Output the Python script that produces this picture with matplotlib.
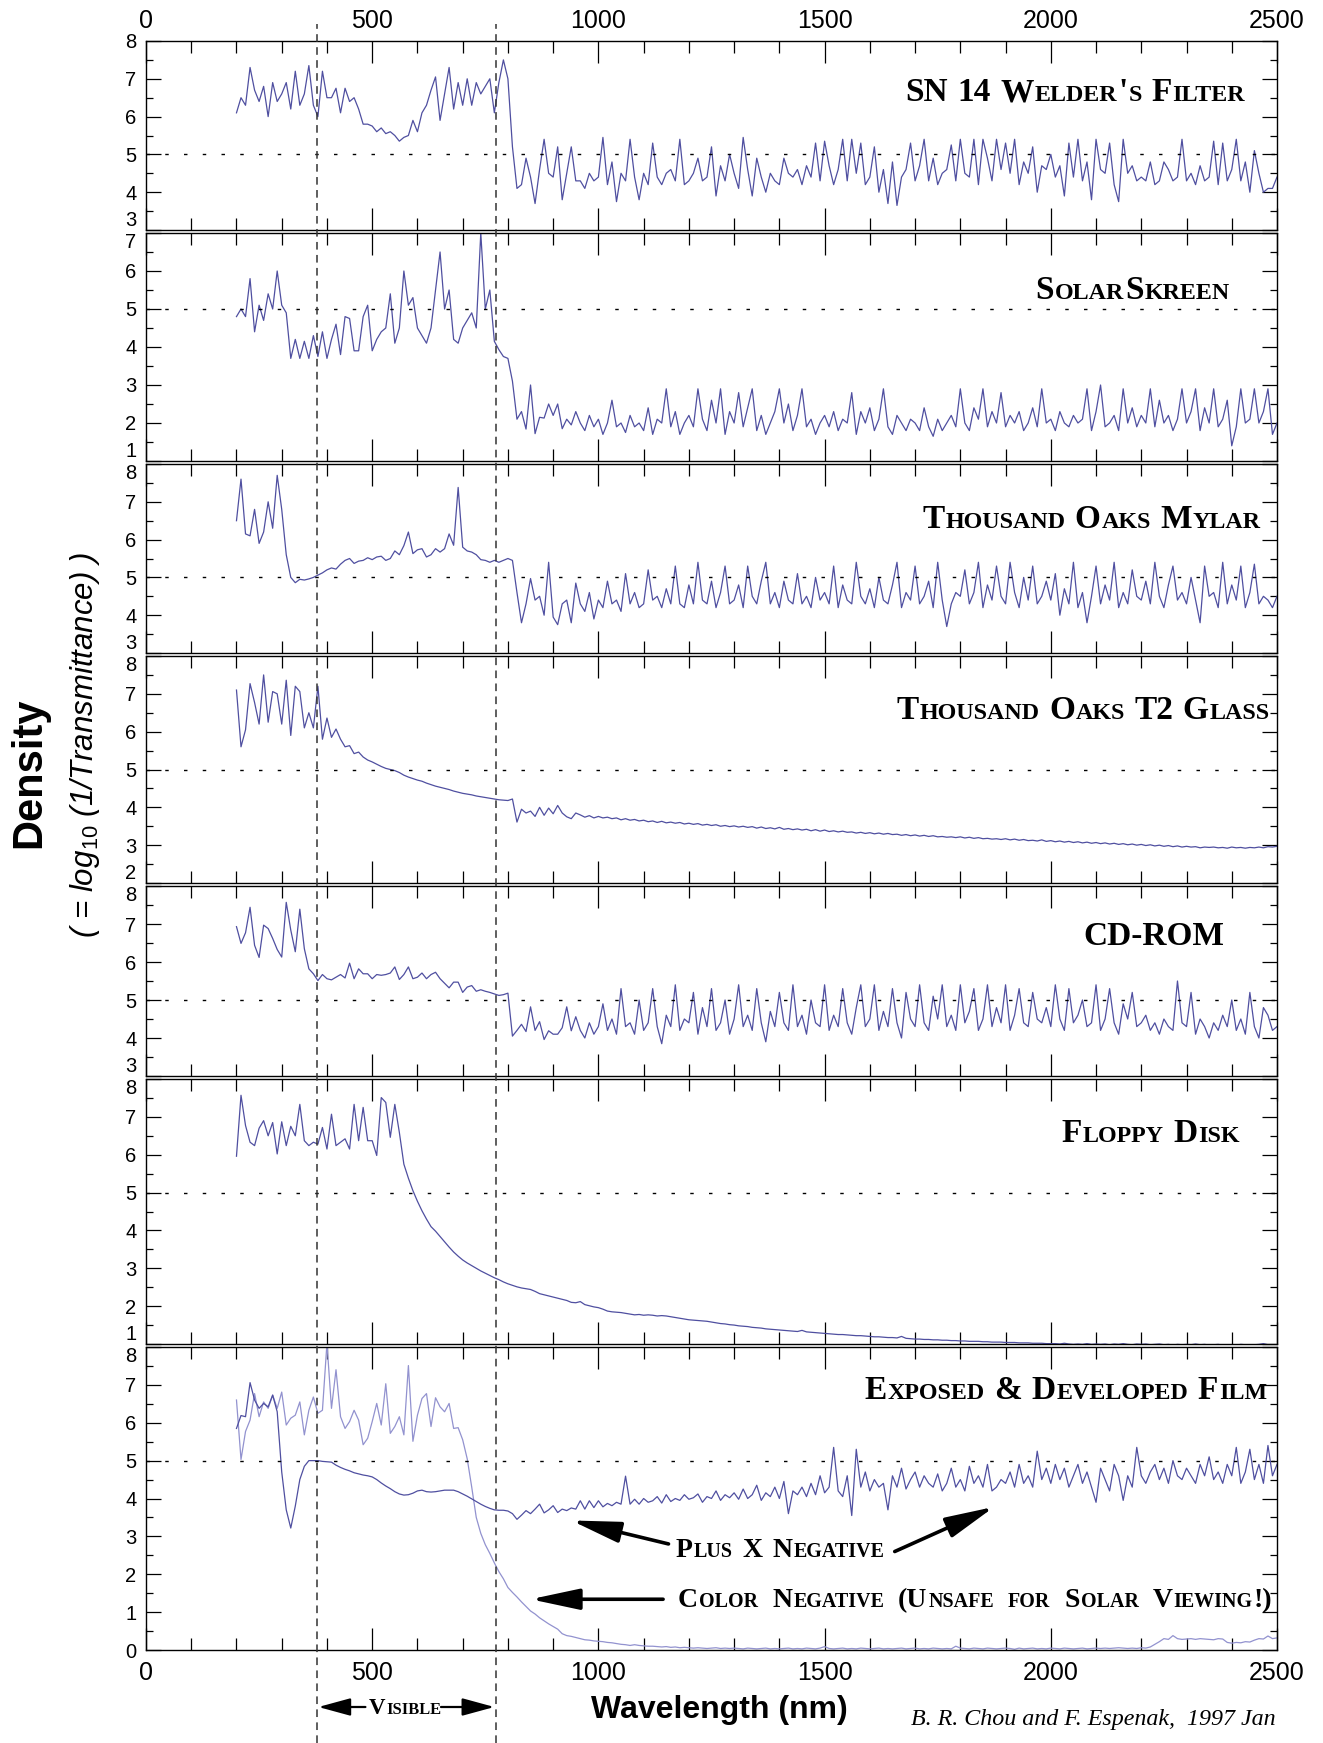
import numpy as np
import matplotlib
matplotlib.use('Agg')
import matplotlib.pyplot as plt
from matplotlib.lines import Line2D
from matplotlib.ticker import MultipleLocator
import matplotlib.transforms as mtrans

plt.rcParams['font.family'] = ['Liberation Sans', 'DejaVu Sans']
plt.rcParams['mathtext.fontset'] = 'custom'
plt.rcParams['mathtext.it'] = 'Liberation Sans:italic'
plt.rcParams['mathtext.rm'] = 'Liberation Sans'

# wavelength grid (nm), one value every 10 nm
wavelength = np.arange(200, 2501, 10)

sn14 = [
    6.1, 6.5, 6.3, 7.3, 6.7, 6.4, 6.8, 6.0, 6.9, 6.4,
    6.6, 6.9, 6.2, 7.2, 6.3, 6.6, 7.35, 6.3, 6.0, 7.2,
    6.5, 6.5, 6.75, 6.1, 6.75, 6.4, 6.5, 6.2, 5.8, 5.8,
    5.75, 5.6, 5.7, 5.55, 5.6, 5.5, 5.35, 5.45, 5.5, 5.9,
    5.6, 6.1, 6.3, 6.7, 7.05, 5.9, 6.6, 7.3, 6.2, 6.9,
    6.3, 7.0, 6.3, 6.9, 6.6, 6.8, 7.0, 6.1, 6.9, 7.5,
    7.0, 5.2, 4.1, 4.2, 4.9, 4.4, 3.7, 4.6, 5.4, 4.5,
    4.4, 5.2, 3.8, 4.5, 5.2, 4.3, 4.3, 4.1, 4.5, 4.3,
    4.4, 5.45, 4.2, 4.8, 3.75, 4.5, 4.3, 5.4, 4.4, 3.8,
    4.5, 4.2, 5.3, 4.4, 4.2, 4.5, 4.6, 4.3, 5.4, 4.2,
    4.3, 4.5, 4.9, 4.3, 4.4, 5.2, 3.9, 4.7, 4.3, 5.0,
    4.5, 4.1, 5.45, 4.6, 3.9, 4.9, 4.4, 4.0, 4.5, 4.3,
    4.2, 4.9, 4.5, 4.4, 4.6, 4.2, 4.7, 4.4, 5.3, 4.3,
    5.35, 4.7, 4.2, 4.6, 5.4, 4.3, 5.4, 4.5, 5.3, 4.2,
    4.4, 5.2, 4.0, 4.6, 3.7, 4.8, 3.65, 4.4, 4.6, 5.3,
    4.3, 4.7, 5.4, 4.3, 4.9, 4.2, 4.5, 4.6, 5.25, 4.3,
    5.4, 4.5, 4.4, 5.4, 4.2, 5.4, 4.9, 4.3, 5.4, 4.6,
    5.3, 4.5, 5.4, 4.2, 4.8, 4.5, 5.2, 4.0, 4.7, 4.6,
    5.0, 4.4, 4.7, 3.9, 5.3, 4.4, 5.4, 4.3, 4.8, 3.8,
    5.4, 4.6, 4.5, 5.3, 4.2, 3.75, 5.4, 4.5, 4.7, 4.3,
    4.4, 4.3, 4.8, 4.2, 4.3, 4.8, 4.6, 4.3, 4.4, 5.4,
    4.3, 4.5, 4.2, 4.7, 4.3, 4.4, 5.35, 4.2, 5.3, 4.3,
    4.6, 5.4, 4.3, 4.8, 4.0, 5.1, 4.5, 4.0, 4.1, 4.1,
    4.4,
]

solarskreen = [
    4.8, 5.0, 4.8, 5.8, 4.4, 5.1, 4.7, 5.4, 5.0, 6.0,
    5.1, 4.9, 3.7, 4.2, 3.7, 4.15, 3.7, 4.3, 3.75, 4.4,
    3.7, 4.2, 4.6, 3.8, 4.8, 4.75, 3.9, 3.9, 4.8, 5.1,
    3.9, 4.2, 4.4, 4.5, 5.4, 4.1, 4.5, 6.0, 5.1, 5.3,
    4.5, 4.3, 4.1, 4.5, 5.5, 6.5, 5.0, 5.5, 4.2, 4.1,
    4.5, 4.7, 4.9, 4.5, 7.0, 5.0, 5.5, 4.15, 3.93, 3.75,
    3.7, 3.1, 2.1, 2.3, 1.84, 3.0, 1.72, 2.15, 2.13, 2.5,
    2.2, 2.5, 1.85, 2.1, 1.95, 2.3, 2.0, 1.8, 2.2, 1.9,
    2.1, 1.7, 2.0, 2.6, 1.9, 2.0, 1.75, 2.2, 1.9, 2.0,
    1.8, 2.4, 1.7, 2.1, 2.0, 2.9, 1.9, 2.3, 1.7, 2.0,
    2.2, 1.9, 2.9, 2.1, 1.8, 2.6, 2.0, 2.9, 1.7, 2.3,
    2.0, 2.8, 1.9, 2.4, 2.9, 1.8, 2.2, 1.7, 2.0, 2.3,
    2.9, 2.0, 2.5, 1.8, 2.2, 2.9, 1.9, 2.1, 1.7, 2.0,
    2.2, 1.9, 2.3, 1.8, 2.1, 2.0, 2.8, 1.7, 2.3, 2.0,
    2.4, 1.8, 2.1, 2.9, 1.9, 1.7, 2.2, 2.0, 1.8, 2.1,
    2.0, 1.8, 2.4, 1.9, 1.65, 2.1, 1.8, 2.0, 2.2, 1.9,
    2.9, 2.0, 1.8, 2.4, 2.1, 2.9, 1.9, 2.3, 2.0, 2.8,
    1.9, 2.2, 2.0, 2.3, 1.8, 2.0, 2.4, 1.9, 2.9, 2.0,
    2.1, 1.8, 2.3, 2.0, 1.9, 2.2, 2.0, 2.1, 2.9, 1.8,
    2.3, 3.0, 1.9, 2.0, 2.2, 1.8, 2.9, 2.0, 2.4, 1.9,
    2.2, 2.0, 2.9, 1.9, 2.6, 2.0, 2.2, 1.8, 2.1, 2.9,
    2.0, 2.3, 2.9, 1.8, 2.4, 2.0, 2.9, 1.9, 2.1, 2.6,
    1.4, 1.9, 2.9, 2.0, 2.1, 2.9, 2.0, 2.3, 2.9, 1.7,
    2.0,
]

mylar = [
    6.5, 7.6, 6.15, 6.1, 6.8, 5.9, 6.2, 7.0, 6.3, 7.7,
    6.8, 5.6, 5.0, 4.86, 4.95, 4.93, 4.96, 5.0, 5.06, 5.12,
    5.2, 5.25, 5.22, 5.35, 5.45, 5.5, 5.37, 5.43, 5.45, 5.52,
    5.47, 5.54, 5.56, 5.45, 5.5, 5.7, 5.6, 5.84, 6.2, 5.63,
    5.73, 5.76, 5.54, 5.6, 5.76, 5.67, 5.76, 6.15, 5.85, 7.38,
    5.8, 5.7, 5.67, 5.6, 5.47, 5.45, 5.4, 5.45, 5.4, 5.45,
    5.5, 5.45, 4.6, 3.8, 4.3, 4.97, 4.4, 4.5, 4.0, 5.4,
    3.95, 3.75, 4.3, 4.4, 3.8, 4.85, 4.3, 4.1, 4.6, 3.9,
    4.4, 4.2, 4.9, 4.3, 4.4, 4.1, 5.1, 4.3, 4.6, 4.2,
    4.3, 5.2, 4.4, 4.5, 4.2, 4.7, 4.3, 5.3, 4.3, 4.2,
    4.8, 4.3, 5.4, 4.4, 4.3, 4.9, 4.2, 4.6, 5.3, 4.3,
    4.4, 4.8, 4.2, 5.3, 4.5, 4.3, 4.9, 5.4, 4.3, 4.6,
    4.2, 4.9, 4.4, 4.3, 5.1, 4.3, 4.5, 4.2, 5.0, 4.4,
    4.6, 4.3, 5.3, 4.2, 4.8, 4.4, 4.3, 5.4, 4.5, 4.3,
    4.7, 4.2, 5.0, 4.4, 4.3, 4.8, 5.4, 4.2, 4.6, 4.4,
    5.3, 4.3, 4.5, 4.9, 4.2, 5.4, 4.4, 3.7, 4.3, 4.6,
    4.5, 5.2, 4.3, 4.6, 5.4, 4.2, 4.8, 4.4, 5.3, 4.5,
    4.3, 5.4, 4.6, 4.2, 5.0, 4.4, 5.3, 4.3, 4.5, 4.9,
    4.4, 5.1, 4.0, 4.7, 4.3, 5.4, 4.2, 4.6, 3.8, 4.5,
    5.3, 4.3, 4.8, 4.4, 5.4, 4.2, 4.6, 4.3, 5.2, 4.5,
    4.4, 4.9, 4.3, 5.4, 4.5, 4.2, 4.8, 5.3, 4.4, 4.6,
    4.3, 5.0, 4.4, 3.8, 5.3, 4.5, 4.6, 4.2, 5.4, 4.3,
    4.8, 4.4, 5.3, 4.2, 4.6, 5.35, 4.3, 4.5, 4.4, 4.2,
    4.5,
]

t2_glass = [
    7.1, 5.6, 6.05, 7.27, 6.77, 6.2, 7.5, 6.25, 7.06, 7.0,
    6.2, 7.36, 5.9, 7.2, 7.06, 6.1, 6.5, 6.1, 7.2, 5.8,
    6.36, 5.85, 6.07, 5.8, 5.6, 5.63, 5.42, 5.46, 5.33, 5.25,
    5.2, 5.14, 5.08, 5.03, 5.0, 4.97, 4.92, 4.85, 4.8, 4.76,
    4.72, 4.69, 4.64, 4.6, 4.56, 4.53, 4.5, 4.47, 4.43, 4.4,
    4.37, 4.35, 4.33, 4.3, 4.28, 4.26, 4.24, 4.22, 4.2, 4.19,
    4.18, 4.22, 3.61, 3.95, 3.85, 3.9, 3.76, 4.0, 3.79, 3.98,
    3.83, 4.05, 3.85, 3.75, 3.7, 3.85, 3.8, 3.74, 3.78, 3.72,
    3.76, 3.72, 3.74, 3.7, 3.72, 3.67, 3.7, 3.66, 3.68, 3.64,
    3.66, 3.62, 3.64, 3.6, 3.63, 3.59, 3.61, 3.58, 3.6, 3.56,
    3.58, 3.55, 3.57, 3.53, 3.55, 3.52, 3.54, 3.5, 3.52, 3.49,
    3.51, 3.48, 3.5, 3.47, 3.49, 3.45, 3.48, 3.44, 3.46, 3.43,
    3.47, 3.42, 3.44, 3.41, 3.43, 3.4, 3.42, 3.38, 3.41, 3.37,
    3.4, 3.36, 3.38, 3.35, 3.37, 3.34, 3.35, 3.32, 3.34, 3.31,
    3.33, 3.3, 3.32, 3.29, 3.31, 3.28, 3.29, 3.26, 3.28, 3.25,
    3.27, 3.24, 3.26, 3.23, 3.25, 3.22, 3.23, 3.21, 3.22, 3.2,
    3.22, 3.19, 3.21, 3.18, 3.2, 3.17, 3.18, 3.16, 3.17, 3.15,
    3.17, 3.14, 3.16, 3.13, 3.15, 3.12, 3.13, 3.11, 3.14, 3.1,
    3.12, 3.09, 3.11, 3.08, 3.1, 3.07, 3.09, 3.06, 3.08, 3.05,
    3.07, 3.04, 3.06, 3.03, 3.05, 3.02, 3.04, 3.01, 3.03, 3.0,
    3.02, 2.99, 3.01, 2.98, 3.0, 2.97, 2.99, 2.96, 2.98, 2.95,
    2.97, 2.95, 2.96, 2.93, 2.95, 2.94, 2.95, 2.93, 2.94, 2.92,
    2.95, 2.93, 2.94, 2.92, 2.94, 2.93, 2.95, 2.93, 2.96, 2.95,
    2.97,
]

cd_rom = [
    6.93, 6.49, 6.77, 7.44, 6.44, 6.12, 6.97, 6.88, 6.62, 6.33,
    6.13, 7.57, 6.84, 6.27, 7.39, 6.35, 5.82, 5.69, 5.51, 5.67,
    5.56, 5.53, 5.6, 5.67, 5.58, 5.97, 5.56, 5.82, 5.69, 5.69,
    5.56, 5.67, 5.65, 5.67, 5.71, 5.87, 5.54, 5.67, 5.87, 5.56,
    5.6, 5.71, 5.56, 5.67, 5.73, 5.56, 5.44, 5.32, 5.47, 5.47,
    5.2, 5.34, 5.38, 5.23, 5.27, 5.23, 5.2, 5.16, 5.12, 5.14,
    5.18, 4.05, 4.2, 4.36, 4.17, 4.82, 4.2, 4.43, 3.96, 4.19,
    4.1, 4.1, 4.27, 4.82, 4.19, 4.56, 4.2, 4.0, 4.4, 4.1,
    4.3, 4.9, 4.2, 4.5, 4.1, 5.3, 4.3, 4.4, 4.1, 5.0,
    4.2, 4.4, 5.3, 4.3, 3.85, 4.6, 4.3, 5.4, 4.2, 4.5,
    4.4, 5.2, 4.1, 4.8, 4.3, 5.3, 4.2, 4.4, 5.0, 4.1,
    4.5, 5.4, 4.3, 4.6, 4.2, 5.3, 4.4, 3.9, 4.7, 4.3,
    5.2, 4.4, 4.2, 5.4, 4.3, 4.6, 4.1, 5.0, 4.4, 4.3,
    5.4, 4.2, 4.6, 4.3, 5.3, 4.4, 4.1, 4.8, 5.4, 4.3,
    4.5, 5.4, 4.2, 4.7, 4.3, 5.3, 4.4, 4.0, 5.2, 4.5,
    4.3, 5.4, 4.4, 4.2, 5.1, 4.5, 5.4, 4.3, 4.6, 4.2,
    5.4, 4.4, 4.7, 5.3, 4.2, 4.5, 5.4, 4.3, 4.8, 4.4,
    5.4, 4.2, 4.6, 5.3, 4.4, 4.3, 5.2, 4.5, 4.4, 4.8,
    4.3, 5.4, 4.5, 4.2, 5.3, 4.4, 4.6, 5.0, 4.3, 4.4,
    5.4, 4.2, 4.5, 5.3, 4.4, 4.1, 4.9, 4.5, 5.2, 4.3,
    4.4, 4.6, 4.2, 4.4, 4.1, 4.5, 4.3, 4.2, 5.5, 4.4,
    4.3, 5.2, 4.1, 4.5, 4.3, 4.0, 4.4, 4.2, 4.6, 4.3,
    5.0, 4.2, 4.5, 4.1, 5.2, 4.3, 4.0, 4.8, 4.6, 4.2,
    4.3,
]

floppy = [
    5.96, 7.57, 6.77, 6.33, 6.24, 6.7, 6.9, 6.5, 6.85, 6.02,
    6.87, 6.24, 6.75, 6.5, 7.33, 6.37, 6.24, 6.33, 6.28, 6.72,
    6.15, 7.07, 6.24, 6.33, 6.42, 6.15, 7.33, 6.37, 7.25, 6.37,
    6.37, 5.98, 7.51, 7.38, 6.46, 7.33, 6.59, 5.75, 5.38, 5.05,
    4.77, 4.52, 4.3, 4.1, 3.98, 3.84, 3.7, 3.56, 3.43, 3.32,
    3.22, 3.14, 3.07, 3.0, 2.93, 2.87, 2.81, 2.75, 2.7, 2.64,
    2.59, 2.55, 2.51, 2.48, 2.46, 2.44, 2.39, 2.33, 2.3, 2.27,
    2.24, 2.21, 2.18, 2.15, 2.1, 2.09, 2.12, 2.04, 2.01, 1.98,
    1.96, 1.92, 1.87, 1.85, 1.84, 1.83, 1.81, 1.79, 1.77, 1.78,
    1.76, 1.77, 1.76, 1.74, 1.75, 1.74, 1.72, 1.7, 1.68, 1.66,
    1.64, 1.63, 1.62, 1.61, 1.6, 1.58, 1.56, 1.54, 1.53, 1.51,
    1.5, 1.48, 1.47, 1.46, 1.44, 1.43, 1.42, 1.4, 1.39, 1.38,
    1.37, 1.36, 1.35, 1.34, 1.33, 1.36, 1.32, 1.31, 1.3, 1.29,
    1.28, 1.27, 1.26, 1.25, 1.25, 1.24, 1.23, 1.22, 1.22, 1.21,
    1.2, 1.19, 1.19, 1.18, 1.17, 1.17, 1.16, 1.2, 1.15, 1.14,
    1.13, 1.13, 1.12, 1.12, 1.11, 1.11, 1.1, 1.1, 1.09, 1.09,
    1.08, 1.08, 1.07, 1.07, 1.07, 1.06, 1.06, 1.05, 1.05, 1.05,
    1.04, 1.04, 1.04, 1.03, 1.03, 1.03, 1.02, 1.02, 1.02, 1.01,
    1.01, 1.01, 1.0, 1.02, 1.0, 0.99, 1.0, 0.99, 1.01, 0.99,
    1.0, 0.99, 1.0, 0.98, 1.0, 0.99, 1.01, 0.99, 0.98, 1.0,
    0.99, 1.0, 0.98, 0.99, 1.0, 0.98, 0.99, 0.97, 0.99, 0.98,
    0.99, 0.98, 1.0, 0.98, 0.99, 0.97, 0.98, 0.99, 0.97, 0.98,
    0.98, 0.97, 0.99, 0.98, 0.97, 0.98, 0.99, 1.01, 0.98, 0.97,
    0.98,
]

plus_x = [
    5.85, 6.19, 6.16, 7.06, 6.6, 6.38, 6.51, 6.42, 6.73, 6.29,
    4.7, 3.7, 3.22, 3.8, 4.5, 4.85, 5.0, 5.0, 5.0, 4.98,
    4.97, 4.96, 4.88, 4.82, 4.77, 4.73, 4.68, 4.65, 4.62, 4.6,
    4.57, 4.5, 4.41, 4.33, 4.26, 4.18, 4.12, 4.09, 4.1, 4.14,
    4.2, 4.22, 4.18, 4.17, 4.18, 4.2, 4.22, 4.22, 4.22, 4.18,
    4.12, 4.06, 3.99, 3.92, 3.85, 3.79, 3.74, 3.7, 3.69, 3.69,
    3.67, 3.6, 3.45, 3.56, 3.68, 3.6, 3.72, 3.85, 3.62, 3.7,
    3.81, 3.63, 3.72, 3.68, 3.75, 3.72, 3.94, 3.72, 3.94, 3.76,
    3.94, 3.78, 3.87, 3.81, 3.9, 3.85, 4.59, 3.85, 3.98, 3.85,
    4.0, 3.9, 3.94, 4.05, 3.88, 4.1, 3.92, 4.0, 3.95, 4.1,
    3.98, 4.02, 4.12, 3.9, 4.05, 4.0, 4.2, 3.95, 4.1, 4.02,
    4.15, 3.98, 4.25, 4.0, 4.1, 4.35, 3.95, 4.15, 4.05, 4.3,
    4.0, 4.45, 3.6, 4.2, 4.1, 4.3, 4.05, 4.4, 4.1, 4.6,
    4.15, 4.3, 5.35, 4.2, 4.05, 4.6, 3.55, 5.3, 4.3, 4.7,
    4.2, 4.5, 4.3, 4.4, 3.7, 4.6, 4.3, 4.8, 4.25, 4.5,
    4.7, 4.3, 4.6, 4.4, 4.3, 4.65, 4.2, 4.4, 4.8, 4.3,
    4.5, 4.2, 4.85, 4.4, 4.6, 4.3, 4.9, 4.2, 4.3, 4.5,
    4.4, 4.7, 4.3, 4.9, 4.4, 4.6, 4.3, 5.25, 4.5, 4.8,
    4.4, 4.9, 4.5, 4.8, 4.3, 4.6, 4.9, 4.4, 4.7, 4.3,
    3.9, 4.8, 4.5, 4.2, 4.9, 4.6, 3.95, 4.6, 4.3, 5.35,
    4.6, 4.4, 4.7, 4.9, 4.5, 4.8, 4.4, 5.0, 4.6, 4.5,
    4.8, 4.6, 4.4, 4.9, 4.6, 5.1, 4.5, 4.7, 4.4, 4.9,
    4.6, 5.35, 4.4, 4.7, 5.3, 4.5, 4.9, 4.4, 5.4, 4.6,
    4.9,
]

color_neg = [
    6.6, 5.03, 5.77, 6.07, 6.77, 6.16, 6.55, 6.38, 6.73, 6.38,
    6.81, 5.94, 6.12, 6.2, 6.55, 5.68, 6.33, 6.68, 6.25, 6.33,
    8.1, 6.38, 7.4, 6.16, 5.85, 6.03, 6.33, 6.07, 5.42, 5.59,
    6.03, 6.51, 5.94, 7.03, 5.72, 5.9, 6.16, 5.68, 7.51, 5.51,
    6.2, 6.64, 6.77, 5.9, 6.66, 6.42, 6.29, 6.51, 5.85, 5.87,
    5.55, 5.05, 4.3, 3.5, 3.08, 2.78, 2.55, 2.3, 2.07, 1.88,
    1.65, 1.52, 1.4, 1.27, 1.15, 1.03, 0.95, 0.85, 0.77, 0.69,
    0.62, 0.55, 0.43, 0.38, 0.36, 0.33, 0.3, 0.27, 0.26, 0.24,
    0.23, 0.22, 0.2, 0.19, 0.17, 0.15, 0.14, 0.12, 0.14, 0.12,
    0.11, 0.1, 0.1, 0.09, 0.08, 0.09, 0.07, 0.08, 0.06, 0.07,
    0.06, 0.05, 0.06, 0.05, 0.04, 0.05, 0.06, 0.04, 0.05, 0.04,
    0.05, 0.04, 0.03, 0.05, 0.04, 0.03, 0.04, 0.05, 0.03, 0.04,
    0.03, 0.04, 0.05, 0.03, 0.04, 0.03, 0.05, 0.04, 0.03, 0.05,
    0.09, 0.04, 0.03, 0.04, 0.05, 0.03, 0.04, 0.03, 0.05, 0.04,
    0.03, 0.04, 0.05, 0.03, 0.04, 0.03, 0.04, 0.05, 0.03, 0.04,
    0.05, 0.03, 0.04, 0.03, 0.05, 0.04, 0.03, 0.04, 0.03, 0.1,
    0.05, 0.04, 0.03, 0.05, 0.04, 0.03, 0.05, 0.04, 0.03, 0.04,
    0.05, 0.04, 0.02, 0.05, 0.03, 0.04, 0.05, 0.03, 0.04, 0.03,
    0.05, 0.04, 0.03, 0.05, 0.04, 0.03, 0.04, 0.05, 0.03, 0.04,
    0.05, 0.04, 0.05, 0.04, 0.05, 0.06, 0.05, 0.04, 0.05, 0.04,
    0.06, 0.05, 0.08, 0.15, 0.22, 0.3, 0.28, 0.38, 0.3, 0.28,
    0.29, 0.3, 0.28, 0.3, 0.29, 0.28, 0.27, 0.3, 0.29, 0.2,
    0.18, 0.2, 0.19, 0.22, 0.21, 0.26, 0.3, 0.29, 0.37, 0.3,
    0.32,
]

titles = ["SN 14 Welder's Filter", "SolarSkreen", "Thousand Oaks Mylar",
          "Thousand Oaks T2 Glass", "CD-ROM", "Floppy Disk",
          "Exposed & Developed Film"]
series = [sn14, solarskreen, mylar, t2_glass, cd_rom, floppy, plus_x]
ylims = [(3, 8), (1, 7), (3, 8), (2, 8), (3, 8), (1, 8), (0, 8)]
visible_edges = [378, 773]

DARK = '#4f4fa0'
LIGHT = '#9292cf'

W, H = 1323, 1743
fig = plt.figure(figsize=(W / 100, H / 100), dpi=100)
renderer = fig.canvas.get_renderer()


def fx(px):
    return px / W


def fy(py):
    return 1 - py / H


def caps_text(x_px, y_px, text, size, ha='right', space=0.3):
    # fake small caps: lowercase letters drawn as smaller capitals
    items = []
    for ch in text:
        if ch == ' ':
            items.append([' ', 'sp'])
            continue
        kind = 'small' if ch.islower() else 'big'
        if items and items[-1][1] == kind:
            items[-1][0] += ch.upper()
        else:
            items.append([ch.upper(), kind])
    arts, widths = [], []
    for s, kind in items:
        if kind == 'sp':
            arts.append(None)
            widths.append(size * space * 100 / 72)
            continue
        fs = size if kind == 'big' else size * 0.72
        t = fig.text(0, 0, s, fontsize=fs, family='Liberation Serif',
                     weight='bold', va='baseline', ha='left')
        arts.append(t)
        widths.append(t.get_window_extent(renderer).width + 1)
    total = sum(widths)
    if ha == 'right':
        x0 = x_px - total
    elif ha == 'center':
        x0 = x_px - total / 2
    else:
        x0 = x_px
    for t, w in zip(arts, widths):
        if t is not None:
            t.set_position((fx(x0), fy(y_px)))
        x0 += w


# panel layout in whole pixels
units = [hi - lo for lo, hi in ylims]
top_px, bottom_px, gap = 41, 1650, 3
left_px, right_px = 146, 1277
unit_px = (bottom_px - top_px - gap * 6) / sum(units)

axes = []
y_cur = top_px
for i, (lo, hi) in enumerate(ylims):
    y0 = round(y_cur)
    y1 = round(y_cur + units[i] * unit_px)
    ax = fig.add_axes([fx(left_px), fy(y1), (right_px - left_px) / W, (y1 - y0) / H])
    y_cur += units[i] * unit_px + gap
    axes.append(ax)

    if i == 6:
        ax.plot(wavelength[:len(color_neg)], color_neg, color=LIGHT, lw=0.9)
    s = series[i]
    ax.plot(wavelength[:len(s)], s, color=DARK, lw=0.9)
    ax.axhline(5, color='black', lw=1.0, dashes=(2.5, 11))

    ax.set_xlim(0, 2500)
    ax.set_ylim(lo, hi)
    ax.xaxis.set_major_locator(MultipleLocator(500))
    ax.xaxis.set_minor_locator(MultipleLocator(100))
    ax.yaxis.set_minor_locator(MultipleLocator(0.5))
    yt = np.arange(lo, hi + 1)
    ax.set_yticks(yt)
    labels = ax.set_yticklabels([str(v) for v in yt])
    if i > 0:
        labels[-1].set_va('top')
    if i < 6:
        labels[0].set_va('bottom')

    ax.tick_params(axis='x', which='major', direction='in', length=16, width=0.9,
                   top=True, bottom=True, labeltop=(i == 0), labelbottom=(i == 6),
                   labelsize=18, pad=(6 if i == 0 else 8))
    ax.tick_params(axis='x', which='minor', direction='in', length=8.5, width=0.9,
                   top=True, bottom=True)
    ax.tick_params(axis='y', which='major', direction='in', length=11, width=0.9,
                   left=True, right=True, labelsize=14.5, pad=7)
    ax.tick_params(axis='y', which='minor', direction='in', length=5, width=0.9,
                   left=True, right=True)
    for sp in ax.spines.values():
        sp.set_linewidth(1.0)

# panel titles (right edge, baseline) in pixels
title_pos = [(1246, 101), (1231, 299), (1262, 528), (1271, 719),
             (1225, 945), (1241, 1142), (1268, 1399)]
for t, (xp, yp) in zip(titles, title_pos):
    caps_text(xp, yp, t, 24, space=0.25)

# annotations for the film panel
ax7 = axes[6]
arrow_kw = dict(arrowstyle='-|>,head_length=1.5,head_width=0.32', lw=2.6,
                color='black', mutation_scale=20, shrinkA=0, shrinkB=0)
ax7.annotate('', xy=(940, 3.42), xytext=(1155, 2.8), arrowprops=arrow_kw)
ax7.annotate('', xy=(1875, 3.78), xytext=(1655, 2.6), arrowprops=arrow_kw)
ax7.annotate('', xy=(850, 1.34), xytext=(1143, 1.34), arrowprops=arrow_kw)
caps_text(676, 1557, 'Plus X Negative', 20, ha='left', space=0.32)
caps_text(678, 1607, 'Color Negative (Unsafe for Solar Viewing!)', 20, ha='left', space=0.47)

# visible band markers: dashed verticals through all panels
blend = mtrans.blended_transform_factory(ax7.transData, fig.transFigure)
for xv in visible_edges:
    fig.add_artist(Line2D([xv, xv], [0, fy(24)], transform=blend, color='#333333',
                          lw=1.1, dashes=(5, 3.5), zorder=5))
caps_text(406, 1714, 'Visible', 16.5, ha='center')
vis_kw = dict(arrowstyle='-|>,head_length=1.1,head_width=0.3', lw=1.6,
              color='black', mutation_scale=18, shrinkA=0, shrinkB=0)
ax7.annotate('', xy=(visible_edges[0] + 3, fy(1707)), xytext=(485, fy(1707)),
             xycoords=blend, textcoords=blend, arrowprops=vis_kw)
ax7.annotate('', xy=(visible_edges[1] - 3, fy(1707)), xytext=(652, fy(1707)),
             xycoords=blend, textcoords=blend, arrowprops=vis_kw)

# axis titles and credit
fig.text(fx(29), fy(773), 'Density', rotation=90, fontsize=30, weight='bold',
         ha='center', va='center')
fig.text(fx(85), fy(745), r'( = log$_{\mathit{10}}$ (1/Transmittance) )', rotation=90,
         fontsize=22.5, style='italic', ha='center', va='center')
fig.text(fx(719), fy(1710), 'Wavelength (nm)', fontsize=23, weight='bold',
         ha='center', va='center')
fig.text(fx(1276), fy(1725), 'B. R. Chou and F. Espenak,  1997 Jan',
         family='Liberation Serif', style='italic', fontsize=17.3,
         ha='right', va='baseline')

fig.savefig('out.png', dpi=100)
